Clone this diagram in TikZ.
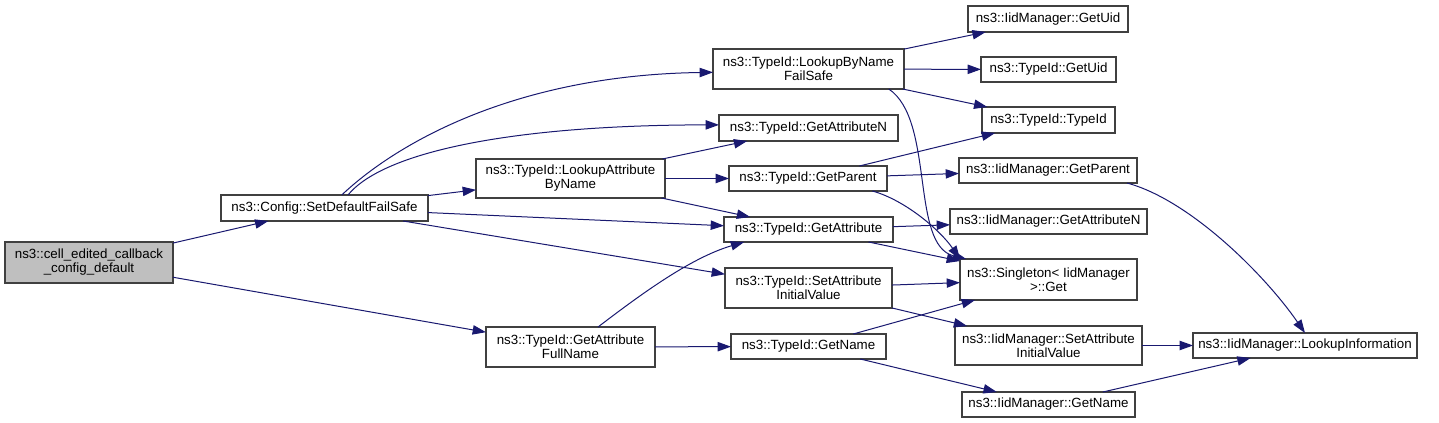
\documentclass[tikz,border=0pt]{standalone}
\usepackage{fontspec}
\setmainfont{Liberation Sans}
\usetikzlibrary{arrows.meta}
\definecolor{dedge}{HTML}{191970}
\definecolor{dline}{HTML}{404040}
\definecolor{dgrey}{HTML}{BFBFBF}
\tikzset{dbox/.style 2 args={draw=dline, line width=0.8pt, fill=white, inner sep=1pt, outer sep=0pt, minimum width=#1*0.75pt, minimum height=#2*0.75pt, align=center, font=\fontsize{10}{10.5}\selectfont}}
\tikzset{dhead/.style={fill=dgrey}}
\tikzset{darr/.style={draw=dedge, line width=0.75pt, -{Triangle[length=10pt, width=7pt]}}}
\begin{document}
\begin{tikzpicture}[x=0.75pt, y=-0.75pt]
	\useasboundingbox[fill=white] (0,0) rectangle (1439,423);
	\node[dbox={168}{41}, dhead] (root) at (89,262.5) {ns3::cell\_edited\_callback\\\_config\_default};
	\node[dbox={207}{26}] (sdfs) at (324.5,208) {ns3::Config::SetDefaultFailSafe};
	\node[dbox={191}{40}] (lbn) at (808.5,69) {ns3::TypeId::LookupByName\\FailSafe};
	\node[dbox={179}{26}] (tgan) at (808.5,128) {ns3::TypeId::GetAttributeN};
	\node[dbox={189}{39}] (lab) at (570.5,178.5) {ns3::TypeId::LookupAttribute\\ByName};
	\node[dbox={158}{25}] (tgp) at (808,178.5) {ns3::TypeId::GetParent};
	\node[dbox={169}{25}] (tga) at (808.5,229.5) {ns3::TypeId::GetAttribute};
	\node[dbox={167}{40}] (tsav) at (808.5,288) {ns3::TypeId::SetAttribute\\InitialValue};
	\node[dbox={169}{40}] (gafn) at (570.5,347) {ns3::TypeId::GetAttribute\\FullName};
	\node[dbox={155}{25}] (tgn) at (808.5,346.5) {ns3::TypeId::GetName};
	\node[dbox={160}{26}] (igu) at (1048,19) {ns3::IidManager::GetUid};
	\node[dbox={135}{25}] (tgu) at (1048.5,69.5) {ns3::TypeId::GetUid};
	\node[dbox={133}{26}] (tti) at (1048.5,120) {ns3::TypeId::TypeId};
	\node[dbox={178}{25}] (igp) at (1048,170.5) {ns3::IidManager::GetParent};
	\node[dbox={197}{25}] (igan) at (1048.5,221.5) {ns3::IidManager::GetAttributeN};
	\node[dbox={177}{41}] (sget) at (1048.5,279.5) {ns3::Singleton< IidManager\\>::Get};
	\node[dbox={187}{39}] (isav) at (1048.5,345.5) {ns3::IidManager::SetAttribute\\InitialValue};
	\node[dbox={173}{25}] (ign) at (1048.5,404.5) {ns3::IidManager::GetName};
	\node[dbox={224}{25}] (ili) at (1305,345.5) {ns3::IidManager::LookupInformation};
	\draw[darr] (root) -- (sdfs);
	\draw[darr] (root) -- (gafn);
	\draw[darr] (sdfs.37) .. controls (400,140) and (520,75) .. (lbn.182);
	\draw[darr] (sdfs.29) .. controls (385,150) and (520,125) .. (tgan.178);
	\draw[darr] (sdfs) -- (lab);
	\draw[darr] (sdfs) -- (tga);
	\draw[darr] (sdfs) -- (tsav);
	\draw[darr] (lab) -- (tgan);
	\draw[darr] (lab) -- (tgp);
	\draw[darr] (lab) -- (tga);
	\draw[darr] (gafn.36) .. controls (640,295) and (690,258) .. (tga.191);
	\draw[darr] (gafn) -- (tgn);
	\draw[darr] (lbn) -- (igu);
	\draw[darr] (lbn) -- (tgu);
	\draw[darr] (lbn) -- (tti);
	\draw[darr] (lbn.-14) .. controls (935,120) and (910,245) .. (sget.166);
	\draw[darr] (tgp) -- (tti);
	\draw[darr] (tgp) -- (igp);
	\draw[darr] (tgp.-11) .. controls (905,200) and (940,230) .. (sget.167);
	\draw[darr] (tga) -- (igan);
	\draw[darr] (tga) -- (sget);
	\draw[darr] (tsav) -- (sget);
	\draw[darr] (tsav) -- (isav);
	\draw[darr] (tgn) -- (sget);
	\draw[darr] (tgn) -- (ign);
	\draw[darr] (igp.-9) .. controls (1190,200) and (1265,275) .. (ili.north);
	\draw[darr] (isav) -- (ili);
	\draw[darr] (ign) -- (ili);
\end{tikzpicture}
\end{document}
